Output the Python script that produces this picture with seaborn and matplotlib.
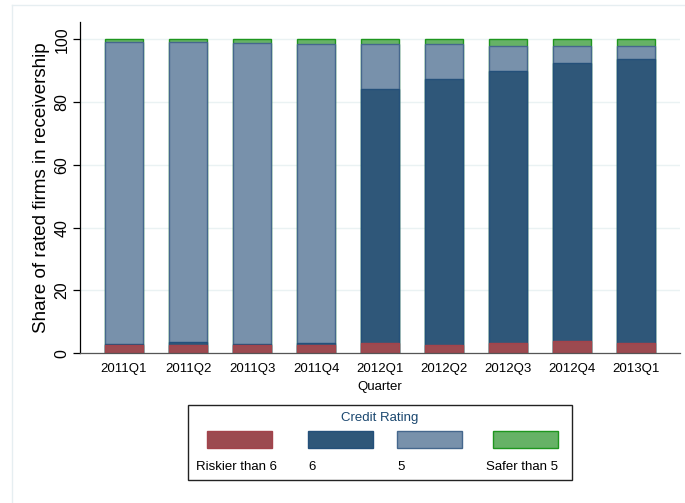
import numpy as np
import pandas as pd
import matplotlib
matplotlib.use("Agg")
import matplotlib.pyplot as plt
import seaborn as sns
from matplotlib.patches import Rectangle

# ===============================
# DATA (shares in %)
# ===============================
quarters = ["2011Q1", "2011Q2", "2011Q3", "2011Q4",
            "2012Q1", "2012Q2", "2012Q3", "2012Q4", "2013Q1"]
riskier_than_6 = [2.5, 2.7, 2.6, 2.6, 3.2, 2.7, 3.2, 3.8, 3.4]
rating_6 = [0.4, 0.8, 0.5, 0.6, 81.0, 84.7, 86.7, 88.7, 90.4]
rating_5 = [96.1, 95.7, 95.6, 95.4, 14.3, 11.1, 8.1, 5.5, 4.2]
safer_than_5 = [1.0, 0.8, 1.3, 1.4, 1.5, 1.5, 2.0, 2.0, 2.0]

labels = ["Riskier than 6", "6", "5", "Safer than 5"]
fills = ["#9C4A50", "#2F5779", "#7891AB", "#66B266"]
edges = ["#A3434B", "#24507A", "#45678D", "#1E961E"]

df = pd.DataFrame({
    "quarter": quarters,
    "Riskier than 6": riskier_than_6,
    "6": rating_6,
    "5": rating_5,
    "Safer than 5": safer_than_5,
})
cum = df[labels].cumsum(axis=1)

plt.rcParams["font.family"] = ["Liberation Sans", "DejaVu Sans"]

# ===============================
# FIGURE
# ===============================
fig = plt.figure(figsize=(6.85, 5.03), dpi=100)
ax = fig.add_axes([80 / 685, 149.7 / 503, 600 / 685, 331.6 / 503])

# stacked bars: draw cumulative totals from the top layer down
for lab, fc, ec in reversed(list(zip(labels, fills, edges))):
    sns.barplot(x=df["quarter"], y=cum[lab], color=fc, width=0.59,
                edgecolor=ec, linewidth=1.0, saturation=1, ax=ax, zorder=2)

ax.set_xlim(-0.6875, 8.6875)
ax.set_ylim(0, 105.6)
ax.set_yticks([0, 20, 40, 60, 80, 100])
ax.grid(axis="y", color="#EAF2F3", linewidth=1.0, zorder=0)
ax.set_axisbelow(True)

for s in ["top", "right"]:
    ax.spines[s].set_visible(False)
ax.spines["left"].set_color("#000000")
ax.spines["bottom"].set_color("#555555")
ax.spines["left"].set_linewidth(0.9)
ax.spines["bottom"].set_linewidth(0.9)

ax.tick_params(axis="y", length=5, width=0.9, labelsize=11.5, pad=2.5,
               labelrotation=90)
for t in ax.get_yticklabels():
    t.set_va("center")
ax.tick_params(axis="x", length=0, labelsize=9.5, pad=7)

ax.set_xlabel("Quarter", fontsize=9.5, labelpad=4)
ax.set_ylabel("Share of rated firms in receivership", fontsize=13.5)
ax.yaxis.set_label_coords(-0.05, 0.5)

# ===============================
# LEGEND (Stata-style: keys above labels)
# ===============================
def fx(px):
    return px / 685

def fy(py):
    return 1 - py / 503

fig.add_artist(Rectangle((fx(188), fy(480)), fx(572) - fx(188), fy(405) - fy(480),
                         transform=fig.transFigure, facecolor="white",
                         edgecolor="#222222", linewidth=1.0))
fig.text(fx(380), fy(418), "Credit Rating", ha="center", va="center",
         fontsize=9.5, color="#1A476F")
key_left = [207, 308, 397, 493]
text_left = [196, 308, 397, 486]
for i, lab in enumerate(labels):
    fig.add_artist(Rectangle((fx(key_left[i]), fy(448)), fx(65), 17 / 503,
                             transform=fig.transFigure, facecolor=fills[i],
                             edgecolor=edges[i], linewidth=1.0))
    fig.text(fx(text_left[i]), fy(467), lab, ha="left", va="center", fontsize=9.5)

# faint outer graph-region frame
fig.add_artist(plt.Line2D([fx(12), fx(12)], [fy(5), 0], transform=fig.transFigure,
                          color="#E6EEF1", linewidth=1.0))
fig.add_artist(plt.Line2D([fx(12), 1], [fy(5), fy(5)], transform=fig.transFigure,
                          color="#E6EEF1", linewidth=1.0))

fig.savefig("out.png", dpi=100)
